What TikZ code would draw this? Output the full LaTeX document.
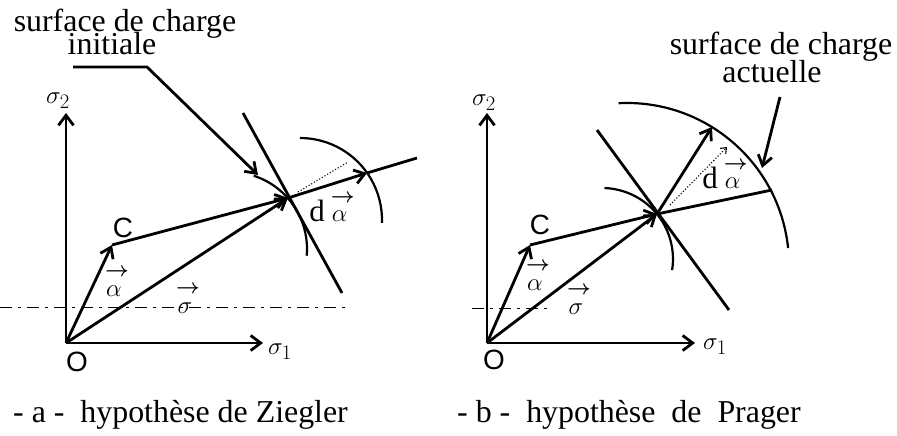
\documentclass[tikz,border=0pt]{standalone}
\usepackage{amsmath}
\usepackage{fontspec}
\setmainfont{Liberation Serif}
\setsansfont{Liberation Sans}
\usetikzlibrary{arrows.meta,positioning}
\newcommand{\ecrfleche}[1]{\overset{\raisebox{4bp}{$\scriptstyle\kern6bp\boldsymbol{\rightarrow}$}}{#1}}
\tikzset{
  ecraxe/.style={line width=2.8bp,-{Straight Barb[length=10bp,width=15bp]}},
  ecrvec/.style={line width=2.8bp,-{Straight Barb[length=10bp,width=14bp]}},
  ecrline/.style={line width=2.8bp},
  ecrarc/.style={line width=2.2bp},
  ecrpoint/.style={dotted,line width=1.1bp},
  ecrrepere/.style={line width=0.9bp,dash pattern=on 12bp off 6bp on 3bp off 6bp},
  ecrtexte/.style={font=\fontsize{32}{30}\selectfont,inner sep=0pt},
  ecrgrec/.style={font=\fontsize{31}{30}\selectfont,inner sep=0pt},
  ecrlettre/.style={font=\sffamily\fontsize{28}{28}\selectfont,inner sep=0pt},
}

\begin{document}
\begin{tikzpicture}[x=1bp,y=1bp]
\useasboundingbox (0,0) rectangle (897,-436);

% -a- Ziegler
\coordinate (Oa) at (66,-343);
\coordinate (Ya) at (66,-113);
\coordinate (Xa) at (263,-343);
\coordinate (Ca) at (112,-245);
\coordinate (Pa) at (288,-198);
\coordinate (Qa) at (367,-173);
\coordinate (Ea) at (417,-158);
\coordinate (Ta1) at (243,-113);
\coordinate (Ta2) at (342,-293);
\coordinate (Da1) at (298,-192);
\coordinate (Da2) at (348,-162);
\coordinate (Ha1) at (0,-307);
\coordinate (Ha2) at (350,-307);
\coordinate (Ga1) at (73,-67);
\coordinate (Ga2) at (147,-67);
\coordinate (Ga3) at (258,-175);

\draw[ecrrepere] (Ha1) -- (Ha2);
\draw[ecraxe] (Oa) -- (Ya);
\draw[ecraxe] (Oa) -- (Xa);
\draw[ecrvec] (Oa) -- (Ca);
\draw[ecrvec] (Ca) -- (Pa);
\draw[ecrvec] (Oa) -- (Pa);
\draw[ecrline] (Ta1) -- (Ta2);
\draw[ecrvec] (Pa) -- (Qa);
\draw[ecrline] (Qa) -- (Ea);
\draw[ecrpoint] (Da1) -- (Da2);
\draw[ecrarc] (230,-249) ++(72:77) arc[start angle=72,end angle=-5,radius=77];
\draw[ecrarc] (300,-220) ++(90:82) arc[start angle=90,end angle=-2,radius=82];

\node[ecrtexte,anchor=base] (inia) at (125,-32) {surface de charge};
\node[ecrtexte,anchor=base] (inib) at (112,-55) {initiale};
\draw[ecrvec] (Ga1) -- (Ga2) -- (Ga3);

\node[ecrgrec] (s2a) at (58,-101) {$\sigma_2$};
\node[ecrgrec] (s1a) at (280,-352) {$\sigma_1$};
\node[ecrlettre] (oa) at (77,-362) {O};
\node[ecrlettre] (ca) at (123,-228) {C};
\node[ecrgrec] (alpa) at (114,-281) {$\ecrfleche{\alpha}$};
\node[ecrgrec] (siga) at (185,-298) {$\ecrfleche{\sigma}$};
\node[ecrgrec] (dalpa) at (332,-207) {$\mathrm{d}\ecrfleche{\alpha}$};
\node[ecrtexte,anchor=base west] (capa) at (13,-422) {- a -~~hypothèse de Ziegler};

% -b- Prager
\coordinate (Ob) at (487,-343);
\coordinate (Yb) at (487,-113);
\coordinate (Xb) at (695,-343);
\coordinate (Cb) at (530,-245);
\coordinate (Pb) at (657,-214);
\coordinate (Qb) at (712,-127);
\coordinate (Fb) at (772,-190);
\coordinate (Tb1) at (597,-130);
\coordinate (Tb2) at (729,-310);
\coordinate (Db1) at (670,-205);
\coordinate (Db2) at (727,-147);
\coordinate (Hb1) at (472,-308);
\coordinate (Hb2) at (550,-308);
\coordinate (Gb1) at (780,-97);
\coordinate (Gb2) at (762,-168);

\draw[ecrrepere] (Hb1) -- (Hb2);
\draw[ecraxe] (Ob) -- (Yb);
\draw[ecraxe] (Ob) -- (Xb);
\draw[ecrvec] (Ob) -- (Cb);
\draw[ecrvec] (Cb) -- (Pb);
\draw[ecrvec] (Ob) -- (Pb);
\draw[ecrline] (Tb1) -- (Tb2);
\draw[ecrvec] (Pb) -- (Qb);
\draw[ecrline] (Pb) -- (Fb);
\draw[ecrpoint,-{Straight Barb[length=5bp,width=8bp]}] (Db1) -- (Db2);
\draw[ecrarc] (602,-259) ++(88:71) arc[start angle=88,end angle=-9,radius=71];
\draw[ecrarc] (627,-265) ++(93:162) arc[start angle=93,end angle=6,radius=162];

\node[ecrtexte,anchor=base] (acta) at (781,-55) {surface de charge};
\node[ecrtexte,anchor=base] (actb) at (772,-83) {actuelle};
\draw[ecrvec] (Gb1) -- (Gb2);

\node[ecrgrec] (s2b) at (484,-103) {$\sigma_2$};
\node[ecrgrec] (s1b) at (715,-347) {$\sigma_1$};
\node[ecrlettre] (ob) at (494,-360) {O};
\node[ecrlettre] (cb) at (540,-225) {C};
\node[ecrgrec] (alpb) at (535,-275) {$\ecrfleche{\alpha}$};
\node[ecrgrec] (sigb) at (576,-299) {$\ecrfleche{\sigma}$};
\node[ecrgrec] (dalpb) at (725,-174) {$\mathrm{d}\ecrfleche{\alpha}$};
\node[ecrtexte,anchor=base west] (capb) at (457,-422) {- b -~~hypothèse~~de~~Prager};
\end{tikzpicture}
\end{document}
